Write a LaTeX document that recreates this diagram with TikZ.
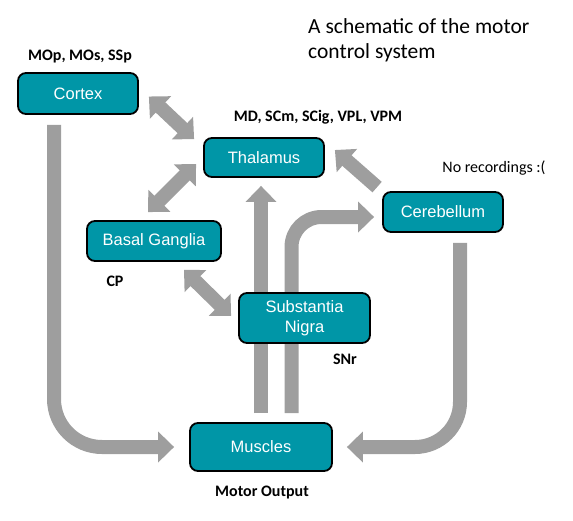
\documentclass[tikz,border=0pt]{standalone}
\usepackage{fontspec}
\setmainfont{Carlito}
\newfontfamily\boxfont{Liberation Sans}
\usetikzlibrary{arrows.meta}
\definecolor{boxteal}{RGB}{0,150,167}
\definecolor{flowgray}{RGB}{158,158,158}
\newcommand*\flowwidth{14pt}
\newcommand*\headtip{Triangle[length=16pt,width=30pt]}
\pgfdeclarelayer{background}
\pgfsetlayers{background,main}
\tikzset{
    region/.style = {draw=black, line width=1.8pt, fill=boxteal,
                    rounded corners=8pt, text=white, align=center, inner sep=0pt,
                    font=\boxfont\fontsize{16.5}{20}\selectfont},
    area/.style   = {font=\bfseries\fontsize{16}{19}\selectfont},
    note/.style   = {font=\fontsize{16}{19}\selectfont},
    flow/.style   = {draw=flowgray, line width=\flowwidth, -{\headtip}},
    twoway/.style = {flow, {\headtip}-{\headtip}},
  }

\begin{document}
\begin{tikzpicture}[x=1pt,y=-1pt]
    \useasboundingbox (0,0) rectangle (573,520);

    % the six regions
    \node (cortex)     [region, minimum width=120pt, minimum height=41pt] at (78,93.5)  {Cortex};
    \node (thalamus)   [region, minimum width=120pt, minimum height=39pt] at (264,157.5) {Thalamus};
    \node (basal)      [region, minimum width=134pt, minimum height=40pt] at (154,241)  {Basal Ganglia};
    \node (cerebellum) [region, minimum width=120pt, minimum height=40pt] at (443,212)  {Cerebellum};
    \node (nigra)      [region, minimum width=131pt, minimum height=50pt] at (304.5,318) {Substantia\\Nigra};
    \node (muscles)    [region, minimum width=142pt, minimum height=48pt] at (261,447)  {Muscles};

    % labels
    \node (cortexlbl)   [area] at (80,57)   {MOp, MOs, SSp};
    \node (thallbl)     [area] at (318,117) {MD, SCm, SCig, VPL, VPM};
    \node (basallbl)    [area] at (115,281) {CP};
    \node (nigralbl)    [area] at (345,359) {SNr};
    \node (muscleslbl)  [area] at (262,493) {Motor Output};
    \node (cerebellbl)  [note] at (494,168) {No recordings :(};
    \node (title) [anchor=west, align=left, inner sep=0pt,
                   font=\fontsize{21.5}{25}\selectfont] at (308,40.5)
        {A schematic of the motor\\control system};

    % connections, behind the boxes
    \begin{pgfonlayer}{background}
    \draw[twoway] ([xshift=10pt,yshift=-3pt]cortex.east) -- ([xshift=-9pt,yshift=-2pt]thalamus.north west);
    \draw[twoway] ([xshift=-7pt,yshift=-6.5pt]thalamus.west) -- ([xshift=-6pt,yshift=8pt]basal.north);
    \draw[twoway] ([xshift=30pt,yshift=-8pt]basal.south) -- ([xshift=-7pt,yshift=2pt]nigra.west);
    \draw[flow] ([xshift=-5pt,yshift=4pt]cerebellum.north west) -- ([xshift=10pt,yshift=7.5pt]thalamus.east);

    \draw[flow, rounded corners=48pt] ([xshift=-24pt,yshift=-10pt]cortex.south) |- ([xshift=-15pt]muscles.west);
    \draw[flow, rounded corners=45pt] ([xshift=17pt,yshift=-10pt]cerebellum.south) |- ([xshift=14pt]muscles.east);

    \draw[flow] ([yshift=9pt]muscles.north) -- ([yshift=-8pt]muscles.north |- thalamus.south);
    \draw[flow, rounded corners=30pt] ([xshift=30.5pt,yshift=9pt]muscles.north) |- ([xshift=-8pt,yshift=-5pt]cerebellum.west);
    \end{pgfonlayer}
\end{tikzpicture}
\end{document}
